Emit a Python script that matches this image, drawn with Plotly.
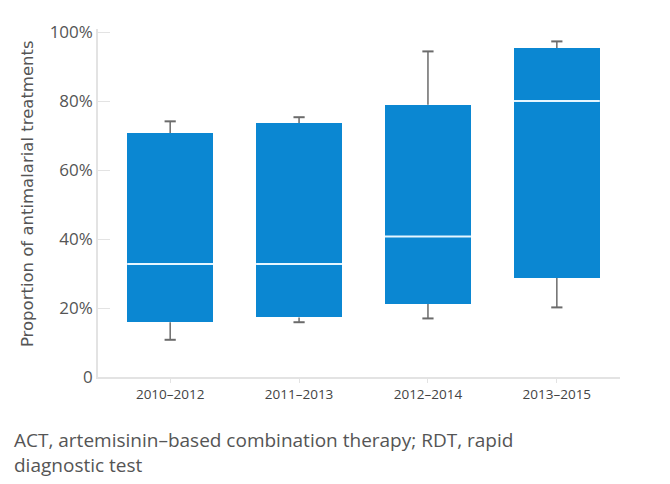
import plotly.graph_objects as go

categories = ["2010–2012", "2011–2013", "2012–2014", "2013–2015"]
lower_whisker = [10.8, 15.9, 17.0, 20.2]
q1 = [15.9, 17.3, 21.2, 28.7]
median = [32.8, 32.8, 40.8, 80.1]
q3 = [70.8, 73.7, 79.0, 95.5]
upper_whisker = [74.2, 75.4, 94.5, 97.4]

y_tickvals = [0, 20, 40, 60, 80, 100]
y_ticktext = ["0", "20%", "40%", "60%", "80%", "100%"]

y_title = "Proportion of antimalarial treatments"
caption_lines = ["ACT, artemisinin–based combination therapy; RDT, rapid",
                 "diagnostic test"]

BLUE = "#0B87D2"
GREY = "#6b6b6b"
TEXT = "#555555"
FONT = "Open Sans"
xs = list(range(len(categories)))

# page body has an 8px default margin, so the figure is 8px smaller
W, H = 662, 476
L, R, T, B = 90, 50, 17, 107
plot_w = W - L - R
plot_h = H - T - B

fig = go.Figure()

# boxes (q1 to q3)
fig.add_trace(go.Bar(
    x=xs, y=[b - a for a, b in zip(q1, q3)], base=q1, width=0.668,
    marker=dict(color=BLUE, line=dict(width=0)), showlegend=False, hoverinfo="skip",
))

# whiskers
for i in xs:
    fig.add_trace(go.Scatter(
        x=[i, i, None, i, i],
        y=[lower_whisker[i], q1[i], None, q3[i], upper_whisker[i]],
        mode="lines", line=dict(color=GREY, width=1.5),
        showlegend=False, hoverinfo="skip",
    ))

# whisker caps
fig.add_trace(go.Scatter(
    x=xs + xs, y=lower_whisker + upper_whisker, mode="markers",
    marker=dict(symbol="line-ew", size=8, line=dict(color=GREY, width=2)),
    showlegend=False, hoverinfo="skip",
))

# medians
fig.add_trace(go.Scatter(
    x=xs, y=median, mode="markers",
    marker=dict(symbol="line-ew", size=61.4, line=dict(color="#E6F6FF", width=2)),
    showlegend=False, hoverinfo="skip",
))

annotations = [
    dict(
        text=y_title, xref="paper", yref="paper", textangle=-90,
        x=(19 - L) / plot_w, y=(T + plot_h - 184) / plot_h,
        xanchor="center", yanchor="middle", showarrow=False,
        font=dict(size=16.5, color=TEXT, family="DejaVu Sans"),
    ),
    dict(
        text="<br>".join(caption_lines), xref="paper", yref="paper",
        x=(4 - L) / plot_w, y=(T + plot_h - 445) / plot_h,
        xanchor="left", yanchor="middle", align="left", showarrow=False,
        font=dict(size=19, color=TEXT, family=FONT),
    ),
]

fig.update_layout(
    width=W, height=H,
    margin=dict(l=L, r=R, t=T, b=B),
    paper_bgcolor="white", plot_bgcolor="white",
    font=dict(family=FONT, color=TEXT),
    bargap=0,
    xaxis=dict(
        range=[-0.56, 3.49], tickvals=xs, ticktext=categories,
        showgrid=False, zeroline=False, showline=True, linecolor="#e3e3e3", linewidth=1.5,
        ticks="outside", ticklen=4, tickcolor="#e3e3e3",
        tickfont=dict(size=13.5, color="#444444", family=FONT),
    ),
    yaxis=dict(
        range=[0, 101], tickvals=y_tickvals, ticktext=y_ticktext,
        showgrid=False, zeroline=False, showline=True, linecolor="#e3e3e3", linewidth=1.5,
        ticks="inside", ticklen=12, tickcolor="#e3e3e3",
        tickfont=dict(size=17, color=TEXT, family=FONT),
    ),
    annotations=annotations,
)

fig.write_html("out.html")
